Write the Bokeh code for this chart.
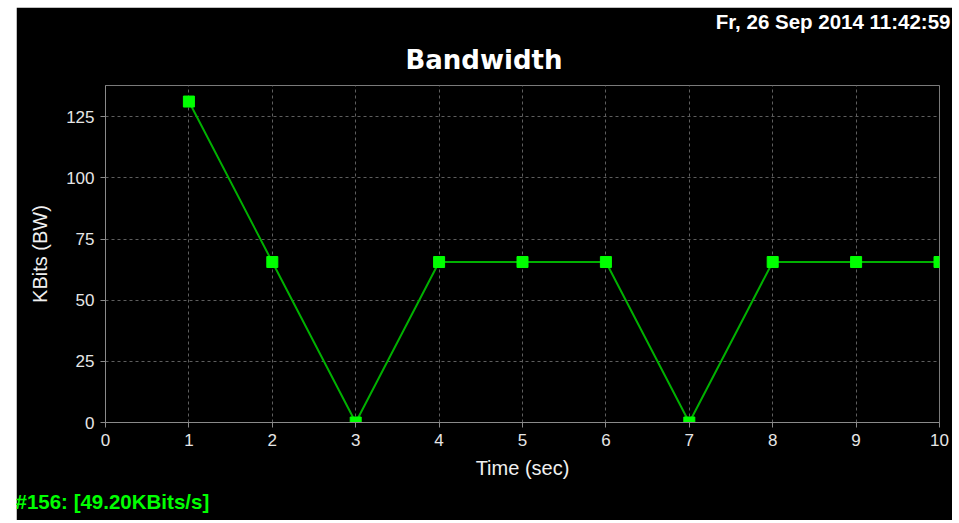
from bokeh.plotting import figure
from bokeh.models import Title, Range1d, FixedTicker
from bokeh.embed import file_html
from bokeh.resources import INLINE

# Data
time_sec = [1, 2, 3, 4, 5, 6, 7, 8, 9, 10]
kbits = [131.2, 65.6, 0, 65.6, 65.6, 65.6, 0, 65.6, 65.6, 65.6]
x_ticks = [0, 1, 2, 3, 4, 5, 6, 7, 8, 9, 10]
y_ticks = [0, 25, 50, 75, 100, 125]
title_text = "Bandwidth"
date_text = "Fr, 26 Sep 2014 11:42:59"
status_text = "#156: [49.20KBits/s]"
x_label = "Time (sec)"
y_label = "KBits (BW)"

p = figure(width=936, height=513, output_backend="svg", toolbar_location=None,
           x_range=Range1d(0, 10), y_range=Range1d(0, max(kbits) * 1.05),
           min_border_left=89, min_border_right=13, min_border_top=78, min_border_bottom=98)
p.margin = (7, 0, 0, 16)

p.background_fill_color = "black"
p.border_fill_color = "black"
p.outline_line_color = "#7a7a7a"
p.outline_line_width = 1

for ax in (p.xaxis[0], p.yaxis[0]):
    ax.axis_line_color = "#8a8a8a"
    ax.major_tick_line_color = "#8a8a8a"
    ax.minor_tick_line_color = None
    ax.major_tick_out = 5
    ax.major_tick_in = 0
    ax.major_label_text_color = "#e6e6e6"
    ax.major_label_text_font = "Liberation Sans"
    ax.major_label_text_font_size = "17px"
    ax.major_label_standoff = 6
    ax.axis_label_text_color = "#f0f0f0"
    ax.axis_label_text_font = "Liberation Sans"
    ax.axis_label_text_font_size = "20px"
    ax.axis_label_text_font_style = "normal"

p.xaxis[0].ticker = FixedTicker(ticks=x_ticks)
p.yaxis[0].ticker = FixedTicker(ticks=y_ticks)
p.xaxis[0].axis_label = x_label
p.yaxis[0].axis_label = y_label
p.xaxis[0].axis_label_standoff = 8
p.yaxis[0].axis_label_standoff = 12

for g in (p.xgrid[0], p.ygrid[0]):
    g.grid_line_color = "#5e5e5e"
    g.grid_line_dash = "3 3"
    g.grid_line_width = 1
p.xgrid[0].ticker = FixedTicker(ticks=x_ticks)
p.ygrid[0].ticker = FixedTicker(ticks=y_ticks)

p.line(time_sec, kbits, line_color="#00b000", line_width=2)
p.scatter(time_sec, kbits, marker="square", size=11, fill_color="#00ff00", line_color="#00ff00")

# date (outermost, top-right)
p.title.text = date_text
p.title.align = "right"
p.title.offset = -11
p.title.text_color = "white"
p.title.text_font = "Liberation Sans"
p.title.text_font_size = "20.5px"
p.title.text_font_style = "bold"
p.title.standoff = 0

# main title (closest to the plot)
p.add_layout(Title(text=title_text, align="left", offset=300, text_color="white",
                   text_font="DejaVu Sans", text_font_size="26px", text_font_style="bold",
                   standoff=21), "above")

p.add_layout(Title(text=status_text, align="left", offset=-90, text_color="#00ff00",
                   text_font="Liberation Sans", text_font_size="20.5px", text_font_style="bold",
                   standoff=12), "below")

open("out.html", "w").write(file_html(p, INLINE))
